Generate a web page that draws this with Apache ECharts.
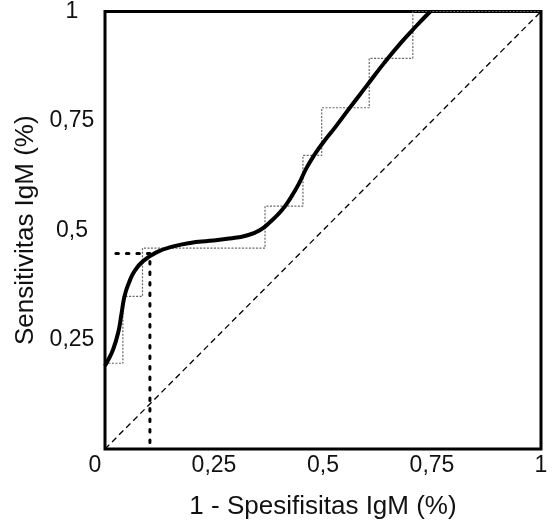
<!DOCTYPE html>
<html>
<head>
<meta charset="utf-8">
<script src="https://cdn.jsdelivr.net/npm/echarts@6/dist/echarts.min.js"></script>
<style>html,body{margin:0;padding:0;background:#fff}#c{width:553px;height:526px}</style>
</head>
<body>
<div id="c"></div>
<script>
// Smooth ROC curve (1 - specificity, sensitivity)
var curveX = [0, 0.007, 0.018, 0.03, 0.038, 0.045, 0.055, 0.068, 0.088, 0.119, 0.157, 0.195, 0.24, 0.285, 0.325, 0.355, 0.38, 0.405, 0.425, 0.445, 0.462, 0.48, 0.5, 0.53, 0.56, 0.6, 0.64, 0.68, 0.715, 0.746];
var curveY = [0.19, 0.203, 0.226, 0.265, 0.31, 0.35, 0.38, 0.407, 0.43, 0.45, 0.463, 0.471, 0.476, 0.481, 0.488, 0.5, 0.52, 0.545, 0.573, 0.607, 0.642, 0.672, 0.7, 0.738, 0.778, 0.83, 0.882, 0.93, 0.968, 1.0];
// Empirical step ROC
var stepX = [0, 0.041, 0.041, 0.086, 0.086, 0.367, 0.367, 0.454, 0.454, 0.497, 0.497, 0.606, 0.606, 0.706, 0.706, 1];
var stepY = [0.196, 0.196, 0.349, 0.349, 0.459, 0.459, 0.555, 0.555, 0.671, 0.671, 0.78, 0.78, 0.893, 0.893, 1.0, 1.0];
// Reference diagonal
var diagX = [0, 1];
var diagY = [0, 1];
// Cut-off point guide lines
var cutX = [0.025, 0.103, 0.103];
var cutY = [0.447, 0.447, 0];
// Tick labels
var tickVals = [0, 0.25, 0.5, 0.75, 1];
var tickText = ['0', '0,25', '0,5', '0,75', '1'];

function pairs(xs, ys) { return xs.map(function (x, i) { return [x, ys[i]]; }); }
function fmt(v) { var i = tickVals.indexOf(Math.round(v * 100) / 100); return i >= 0 ? tickText[i] : ''; }

var font = '"Liberation Sans", Arial, sans-serif';
var chart = echarts.init(document.getElementById('c'), null, { renderer: 'canvas' });
chart.setOption({
  animation: false,
  backgroundColor: '#fff',
  grid: { left: 105, right: 12, top: 11, bottom: 77, show: true, borderColor: '#000', borderWidth: 3, backgroundColor: 'transparent' },
  xAxis: {
    type: 'value', min: 0, max: 1, interval: 0.25,
    name: '1 - Spesifisitas IgM (%)', nameLocation: 'middle', nameGap: 45,
    nameTextStyle: { fontFamily: font, fontSize: 26, color: '#111' },
    axisLine: { show: false }, axisTick: { show: false }, splitLine: { show: false },
    axisLabel: {
      margin: 5, fontFamily: font, fontSize: 23, color: '#111',
      formatter: function (v) { return v === 0 ? '{z|0}' : fmt(v); },
      rich: { z: { fontFamily: font, fontSize: 23, color: '#111', padding: [0, 20, 0, 0] } }
    }
  },
  yAxis: {
    type: 'value', min: 0, max: 1, interval: 0.25,
    name: 'Sensitivitas IgM (%)', nameLocation: 'middle', nameGap: 66, nameRotate: 90,
    nameTextStyle: { fontFamily: font, fontSize: 26, color: '#111' },
    axisLine: { show: false }, axisTick: { show: false }, splitLine: { show: false },
    axisLabel: {
      margin: 33, align: 'center', fontFamily: font, fontSize: 23, color: '#111', showMinLabel: false,
      formatter: function (v) { return v === 0 ? '' : fmt(v); }
    }
  },
  series: [
    { type: 'line', data: pairs(diagX, diagY), symbol: 'none', silent: true,
      lineStyle: { color: '#000', width: 1.3, type: [6, 4] } },
    { type: 'line', data: pairs(stepX, stepY), symbol: 'none', silent: true,
      lineStyle: { color: '#666', width: 1.2, type: [2, 1.5] } },
    { type: 'line', data: pairs(cutX, cutY), symbol: 'none', silent: true,
      lineStyle: { color: '#000', width: 3, type: [2.5, 8], cap: 'round' } },
    { type: 'line', data: pairs(curveX, curveY), symbol: 'none', smooth: 0.5, silent: true,
      lineStyle: { color: '#000', width: 4 } }
  ]
});
</script>
</body>
</html>
